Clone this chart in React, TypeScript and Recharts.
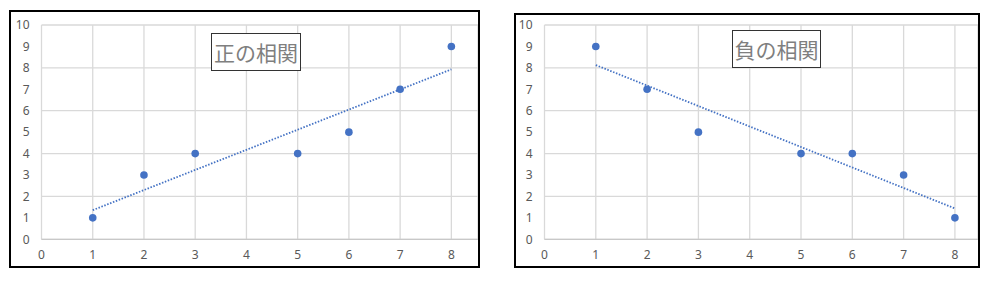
import React from "react";
import {
  ScatterChart,
  Scatter,
  XAxis,
  YAxis,
  CartesianGrid,
  ReferenceLine,
} from "recharts";

const xValues = [1, 2, 3, 5, 6, 7, 8];
const positiveY = [1, 3, 4, 4, 5, 7, 9];
const negativeY = [9, 7, 5, 4, 4, 3, 1];
// trendline ends, at x = 1 and x = 8
const trendX = [1, 8];
const positiveTrend = [1.36, 7.93];
const negativeTrend = [8.13, 1.44];
const xTicks = [0, 1, 2, 3, 4, 5, 6, 7, 8];
const yTicks = [0, 1, 2, 3, 4, 5, 6, 7, 8, 9, 10];
const titles = ["正の相関", "負の相関"];

const BLUE = "#4472C4";
const tickStyle = { fill: "#595959", fontSize: 12, fontFamily: "'Noto Sans', sans-serif" };

const Dot = (props: any) => <circle cx={props.cx} cy={props.cy} r={3.8} fill={BLUE} />;

type PanelProps = {
  box: { left: number; top: number; width: number; height: number };
  plotLeft: number;
  plotTop: number;
  xMax: number;
  ys: number[];
  trend: number[];
  title: string;
  titleBox: { left: number; top: number; width: number; height: number };
};

const Panel = ({ box, plotLeft, plotTop, xMax, ys, trend, title, titleBox }: PanelProps) => {
  const data = xValues.map((x, i) => ({ x, y: ys[i] }));
  const w = box.width - 4;
  const h = box.height - 4;
  return (
    <>
      <div
        style={{
          position: "absolute",
          left: box.left,
          top: box.top,
          width: box.width,
          height: box.height,
          border: "2px solid #000",
          boxSizing: "border-box",
          background: "#fff",
        }}
      >
        <ScatterChart
          width={w}
          height={h}
          margin={{ top: plotTop, right: 0, bottom: 6.7, left: 0 }}
        >
          <CartesianGrid stroke="#d9d9d9" strokeWidth={1.3} />
          <XAxis
            type="number"
            dataKey="x"
            domain={[0, xMax]}
            ticks={xTicks}
            allowDataOverflow
            axisLine={{ stroke: "#c8c8c8", strokeWidth: 1.3 }}
            tickLine={false}
            tickSize={0}
            tickMargin={11}
            height={20}
            tick={tickStyle}
          />
          <YAxis
            type="number"
            dataKey="y"
            domain={[0, 10]}
            ticks={yTicks}
            axisLine={false}
            tickLine={false}
            tickSize={0}
            tickMargin={12}
            width={plotLeft}
            tick={tickStyle}
          />
          <ReferenceLine
            segment={[
              { x: trendX[0], y: trend[0] },
              { x: trendX[1], y: trend[1] },
            ]}
            stroke={BLUE}
            strokeWidth={1.8}
            strokeDasharray="1.5 1.6"
          />
          <Scatter data={data} shape={Dot} isAnimationActive={false} />
        </ScatterChart>
      </div>
      <div
        style={{
          position: "absolute",
          left: titleBox.left,
          top: titleBox.top,
          width: titleBox.width,
          height: titleBox.height,
          border: "1.5px solid #333",
          boxSizing: "border-box",
          background: "#fff",
          color: "#7f7f7f",
          fontFamily: "'Noto Sans CJK JP', sans-serif",
          fontSize: 21,
          display: "flex",
          alignItems: "center",
          justifyContent: "center",
          lineHeight: 1,
        }}
      >
        {title}
      </div>
    </>
  );
};

export default function App() {
  return (
    <div
      style={{
        position: "absolute",
        left: 0,
        top: 0,
        width: 992,
        height: 281,
        background: "#fff",
      }}
    >
      <Panel
        box={{ left: 9, top: 10, width: 471, height: 258 }}
        plotLeft={30.5}
        plotTop={13}
        xMax={8.52}
        ys={positiveY}
        trend={positiveTrend}
        title={titles[0]}
        titleBox={{ left: 211, top: 33, width: 90, height: 38 }}
      />
      <Panel
        box={{ left: 514, top: 13, width: 466, height: 255 }}
        plotLeft={28.5}
        plotTop={10}
        xMax={8.45}
        ys={negativeY}
        trend={negativeTrend}
        title={titles[1]}
        titleBox={{ left: 732, top: 30, width: 89, height: 38 }}
      />
    </div>
  );
}
